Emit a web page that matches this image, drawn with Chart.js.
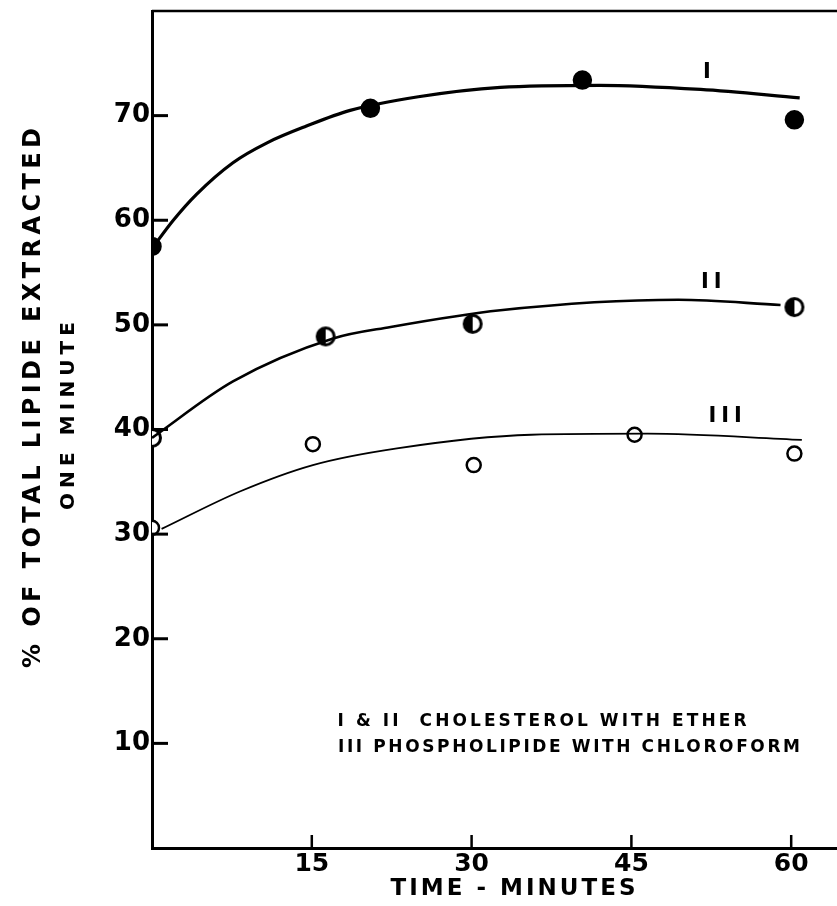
<!DOCTYPE html>
<html>
<head>
<meta charset="utf-8">
<script src="https://cdn.jsdelivr.net/npm/chart.js@4.4.1/dist/chart.umd.min.js"></script>
<style>
  html, body { margin: 0; padding: 0; background: #fff; overflow: hidden; }
  canvas { display: block; }
</style>
</head>
<body>
<canvas id="myChart" width="837" height="906"></canvas>
<script>
// measured points
const ptsIx = [0, 20.5, 40.4, 60.3]
const ptsIy = [57.5, 70.7, 73.4, 69.6]
const ptsIIx = [0, 16.3, 30.1, 60.3]
const ptsIIy = [39.2, 48.9, 50.1, 51.7]
const ptsIIIx = [0, 15.1, 30.2, 45.3, 60.3]
const ptsIIIy = [30.6, 38.6, 36.6, 39.5, 37.7]

// hand drawn curves
const curveIx = [0, 2, 4.2, 7.6, 10.8, 14.5, 18.6, 25, 32.7, 42, 51.5, 60.8]
const curveIy = [57.3, 60.0, 62.5, 65.5, 67.4, 69.0, 70.5, 71.8, 72.7, 72.9, 72.5, 71.7]
const curveIIx = [0, 7.6, 17, 22.4, 32.7, 49.4, 59]
const curveIIy = [39.2, 44.6, 48.7, 49.8, 51.4, 52.4, 51.9]
const curveIIIx = [0.9, 8.3, 15.1, 23, 35.6, 46.5, 61]
const curveIIIy = [30.5, 34.1, 36.6, 38.2, 39.5, 39.6, 39.0]

const xTicks = [15, 30, 45, 60]
const yTicks = [10, 20, 30, 40, 50, 60, 70]

const curveLabels = ["I", "II", "III"]
const curveLabelX = [52.1, 52.5, 53.8]
const curveLabelY = [74.1, 54.0, 41.2]

const pairs = (xs, ys) => xs.map((x, i) => ({ x: x, y: ys[i] }))

// half filled marker
const half = document.createElement("canvas")
half.width = 22
half.height = 22
const hc = half.getContext("2d")
hc.fillStyle = "#fff"
hc.beginPath(); hc.arc(11, 11, 8.5, 0, Math.PI * 2); hc.fill()
hc.fillStyle = "#000"
hc.beginPath(); hc.arc(11, 11, 8.5, Math.PI / 2, Math.PI * 1.5); hc.closePath(); hc.fill()
hc.lineWidth = 3
hc.strokeStyle = "#000"
hc.beginPath(); hc.arc(11, 11, 8.5, 0, Math.PI * 2); hc.stroke()

const FONT = "'DejaVu Sans', sans-serif"

function spaced(ctx, text, cx, cy, width) {
  ctx.letterSpacing = "0px"
  const w = ctx.measureText(text).width
  const ls = (width - w) / (text.length - 1)
  ctx.letterSpacing = ls + "px"
  const w2 = ctx.measureText(text).width
  ctx.fillText(text, cx - w2 / 2 + ls / 2, cy)
}

const extras = {
  id: "extras",
  afterDraw(chart) {
    const ctx = chart.ctx
    const a = chart.chartArea
    const xs = chart.scales.x
    const ys = chart.scales.y
    ctx.save()
    ctx.strokeStyle = "#000"
    ctx.fillStyle = "#000"
    // top frame line
    ctx.lineWidth = 2.5
    ctx.beginPath(); ctx.moveTo(a.left, a.top); ctx.lineTo(a.right, a.top); ctx.stroke()
    // inside tick marks
    ctx.lineWidth = 3
    ys.ticks.forEach(t => {
      const y = ys.getPixelForValue(t.value)
      ctx.beginPath(); ctx.moveTo(a.left, y); ctx.lineTo(a.left + 16, y); ctx.stroke()
    })
    ctx.lineWidth = 2.5
    xs.ticks.forEach(t => {
      const x = xs.getPixelForValue(t.value)
      ctx.beginPath(); ctx.moveTo(x, a.bottom); ctx.lineTo(x, a.bottom - 13); ctx.stroke()
    })
    // curve labels
    ctx.font = "bold 21px " + FONT
    ctx.textAlign = "center"
    ctx.textBaseline = "middle"
    ctx.letterSpacing = "5px"
    curveLabels.forEach((s, i) => {
      ctx.fillText(s, xs.getPixelForValue(curveLabelX[i]) + 2.5, ys.getPixelForValue(curveLabelY[i]))
    })
    // note
    ctx.textAlign = "left"
    ctx.font = "bold 17px " + FONT
    spaced(ctx, "I & II  CHOLESTEROL WITH ETHER", 542, 722, 409)
    spaced(ctx, "III PHOSPHOLIPIDE WITH CHLOROFORM", 569, 748, 462)
    // axis titles
    ctx.font = "bold 23px " + FONT
    spaced(ctx, "TIME - MINUTES", 513, 889, 245)
    ctx.translate(34, 398)
    ctx.rotate(-Math.PI / 2)
    ctx.font = "bold 24px " + FONT
    spaced(ctx, "% OF TOTAL LIPIDE EXTRACTED", 0, 0, 540)
    ctx.font = "bold 20px " + FONT
    spaced(ctx, "ONE MINUTE", -18, 35, 188)
    ctx.restore()
  }
}

const curve = (xs, ys, w) => ({
  type: "line",
  data: pairs(xs, ys),
  borderColor: "#000",
  borderWidth: w,
  pointRadius: 0,
  cubicInterpolationMode: "monotone",
  fill: false,
  clip: 0,
})

const marks = (xs, ys, style, r, bg) => ({
  type: "scatter",
  data: pairs(xs, ys),
  pointStyle: style,
  pointRadius: r,
  backgroundColor: bg,
  borderColor: "#000",
  borderWidth: 2.5,
  clip: 0,
})

const ctx = document.getElementById("myChart").getContext("2d")
const myChart = new Chart(ctx, {
  type: "scatter",
  data: {
    datasets: [
      curve(curveIx, curveIy, 3.2),
      curve(curveIIx, curveIIy, 2.6),
      curve(curveIIIx, curveIIIy, 1.8),
      marks(ptsIx, ptsIy, "circle", 8.5, "#000"),
      marks(ptsIIx, ptsIIy, half, 9, "#000"),
      marks(ptsIIIx, ptsIIIy, "circle", 7, "#fff"),
    ],
  },
  options: {
    responsive: false,
    animation: false,
    events: [],
    layout: { autoPadding: false, padding: { top: 11, left: 0, right: 0, bottom: 0 } },
    plugins: { legend: { display: false }, tooltip: { enabled: false } },
    scales: {
      x: {
        type: "linear",
        min: 0,
        max: 64.3,
        afterBuildTicks: s => { s.ticks = xTicks.map(v => ({ value: v })) },
        afterFit: s => { s.height = 58; s.paddingLeft = 0; s.paddingRight = 0 },
        grid: { display: false, drawTicks: false },
        border: { display: true, color: "#000", width: 3 },
        ticks: { color: "#000", font: { family: FONT, size: 25, weight: "bold" }, padding: 1, maxRotation: 0 },
      },
      y: {
        type: "linear",
        min: 0,
        max: 80,
        afterBuildTicks: s => { s.ticks = yTicks.map(v => ({ value: v })) },
        afterFit: s => { s.width = 152; s.paddingTop = 0; s.paddingBottom = 0 },
        grid: { display: false, drawTicks: false },
        border: { display: true, color: "#000", width: 3 },
        ticks: { color: "#000", font: { family: FONT, size: 26, weight: "bold" }, padding: 2 },
      },
    },
  },
  plugins: [extras],
})
</script>
</body>
</html>
